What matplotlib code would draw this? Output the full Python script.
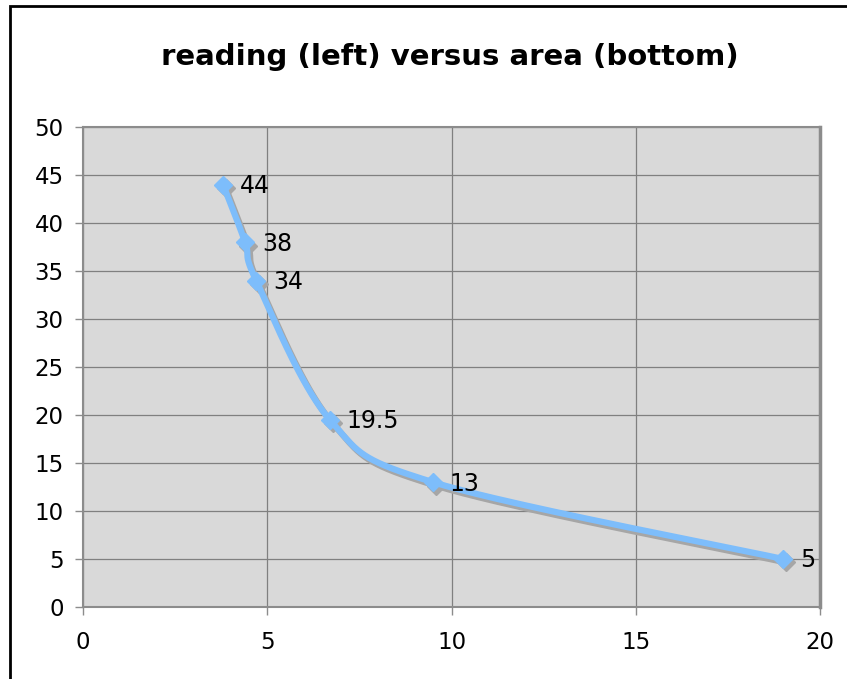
import numpy as np
import matplotlib
matplotlib.use("Agg")
import matplotlib.pyplot as plt
import matplotlib.transforms as mtransforms
from matplotlib.patches import Rectangle

# Data
area = [3.8, 4.4, 4.7, 6.7, 9.5, 19.0]
reading = [44, 38, 34, 19.5, 13, 5]
labels = ["44", "38", "34", "19.5", "13", "5"]
title = "reading (left) versus area (bottom)"
xticks = [0, 5, 10, 15, 20]
yticks = [0, 5, 10, 15, 20, 25, 30, 35, 40, 45, 50]

W, H = 847, 679
fig = plt.figure(figsize=(W / 100, H / 100), dpi=100)
fig.patch.set_facecolor("white")

ax = fig.add_axes([83 / W, 1 - 607 / H, (820 - 83) / W, (607 - 127) / H])
ax.set_facecolor("#D9D9D9")
ax.set_xlim(0, 20)
ax.set_ylim(0, 50)
ax.set_xticks(xticks)
ax.set_yticks(yticks)
ax.grid(True, color="#808080", linewidth=0.9)
ax.set_axisbelow(True)
for s in ax.spines.values():
    s.set_color("#8C8C8C")
    s.set_linewidth(1.5)
ax.spines["right"].set_linewidth(2.5)
ax.tick_params(axis="both", colors="#8C8C8C", labelcolor="black",
               labelsize=16.5, length=6, width=1, direction="out")
ax.tick_params(axis="x", pad=11)
ax.tick_params(axis="y", pad=8)

# Smooth curve (Catmull-Rom style Bezier in display space)
fig.canvas.draw()
pts = ax.transData.transform(np.column_stack([area, reading]))
n = len(pts)
curve = []
for i in range(n - 1):
    p0 = pts[i - 1] if i > 0 else pts[i]
    p1 = pts[i]
    p2 = pts[i + 1]
    p3 = pts[i + 2] if i + 2 < n else pts[i + 1]
    c1 = p1 + (p2 - p0) / 6.0
    c2 = p2 - (p3 - p1) / 6.0
    t = np.linspace(0, 1, 40)[:, None]
    seg = ((1 - t) ** 3) * p1 + 3 * ((1 - t) ** 2) * t * c1 + 3 * (1 - t) * t ** 2 * c2 + t ** 3 * p2
    curve.append(seg if i == 0 else seg[1:])
curve = np.vstack(curve)
curve_data = ax.transData.inverted().transform(curve)

blue = "#7DBDFB"
shade = "#A6A6A6"
shadow_tr = mtransforms.offset_copy(ax.transData, fig=fig, x=2.0, y=-2.5, units="points")

# shadow
ax.plot(curve_data[:, 0], curve_data[:, 1], color=shade, linewidth=4.5,
        solid_capstyle="round", transform=shadow_tr, zorder=2)
ax.plot(area, reading, linestyle="none", marker="D", markersize=9, color=shade,
        markeredgecolor=shade, transform=shadow_tr, zorder=2)
# series
ax.plot(curve_data[:, 0], curve_data[:, 1], color=blue, linewidth=4.5,
        solid_capstyle="round", zorder=3)
ax.plot(area, reading, linestyle="none", marker="D", markersize=9, color=blue,
        markeredgecolor=blue, zorder=4)

for x, y, lab in zip(area, reading, labels):
    ax.annotate(lab, (x, y), xytext=(12, -1), textcoords="offset points",
                ha="left", va="center", fontsize=17, color="black", zorder=5)

fig.text(0.5 * (163 + 737) / W, 1 - 57 / H, title, ha="center", va="center",
         fontsize=21, fontweight="bold")

# Outer chart border (left and top visible)
fig.add_artist(Rectangle((10 / W, -0.2), 1.2, 1.2 - 6 / H, transform=fig.transFigure,
                         fill=False, edgecolor="black", linewidth=2))

fig.savefig("out.png", dpi=100)
